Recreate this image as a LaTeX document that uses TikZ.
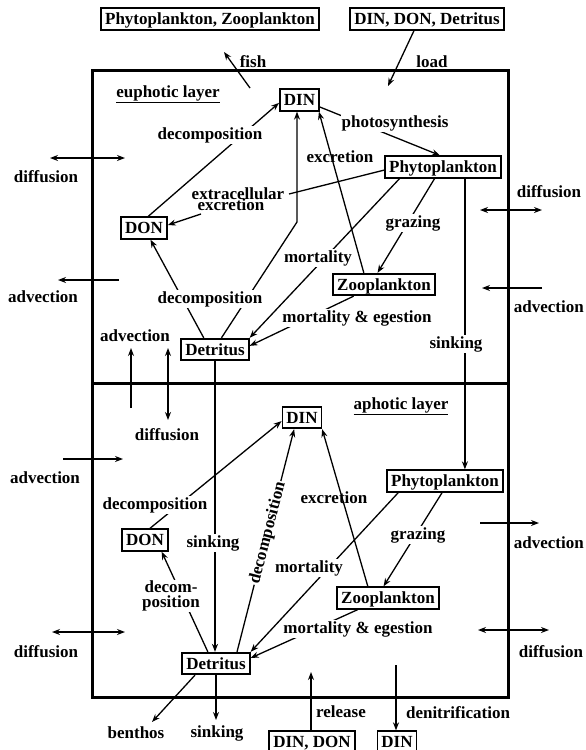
\documentclass[tikz,border=0pt]{standalone}
\usepackage{fontspec}
\setmainfont{Liberation Serif}
\usetikzlibrary{arrows.meta}
\begin{document}
\begin{tikzpicture}[x=1pt,y=-1pt,
  every node/.style={font=\fontsize{17}{15}\selectfont\bfseries},
  box/.style={draw,line width=1.8pt,inner xsep=4pt,inner ysep=5pt,text height=11.5pt,text depth=0pt,fill=white},
  lab/.style={fill=white,inner sep=1pt},
  nlab/.style={inner sep=1pt},
  ln/.style={line width=1.3pt},
  arr/.style={line width=1.3pt,-{Stealth[length=8pt,width=6pt]}},
  dbl/.style={line width=1.3pt,{Stealth[length=8pt,width=6pt]}-{Stealth[length=8pt,width=6pt]}},
  frame/.style={line width=3pt}]
\useasboundingbox (0,0) rectangle (586,750);
\clip (0,0) rectangle (586,750);
% frame
\draw[frame] (92,70) rectangle (508,697);
\draw[frame] (92,383) -- (508,383);
% nodes
\node[box] (PZ) at (210,19) {Phytoplankton, Zooplankton};
\node[box] (DDD) at (427,19) {DIN, DON, Detritus};
\node[box] (DIN1) at (299.5,100) {DIN};
\node[box] (Phy1) at (443,167) {Phytoplankton};
\node[box] (DON1) at (144,228) {DON};
\node[box] (Zoo1) at (384,284.5) {Zooplankton};
\node[box] (Det1) at (215,349.5) {Detritus};
\node[box] (DIN2) at (302,417.5) {DIN};
\node[box] (Phy2) at (445,481) {Phytoplankton};
\node[box] (DON2) at (145,540) {DON};
\node[box] (Zoo2) at (388,598) {Zooplankton};
\node[box] (Det2) at (216,663.5) {Detritus};
\node[box] (DINDON) at (312,742) {DIN, DON};
\node[box] (DINb) at (397,742) {DIN};
% coordinates
\coordinate (fishS) at (250,88);
\coordinate (fishE) at (224,52);
\coordinate (loadE) at (388,86);
\coordinate (bend1) at (297,222);
\coordinate (extraE) at (289,194);
\coordinate (extraS) at (201,214);
\coordinate (advUpS) at (131,408);
\coordinate (advUpE) at (131,348);
\coordinate (difA) at (168,348);
\coordinate (difB) at (168,420);
\coordinate (relE) at (311,672);
\coordinate (denS) at (396,665);
\coordinate (benE) at (152,722);
\coordinate (sinkE) at (216,720);
\coordinate (dL1a) at (50,158); \coordinate (dL1b) at (125,158);
\coordinate (aL1a) at (119,280); \coordinate (aL1b) at (58,280);
\coordinate (aL2a) at (63,459); \coordinate (aL2b) at (123,459);
\coordinate (dL2a) at (52,632); \coordinate (dL2b) at (125,632);
\coordinate (dR1a) at (480,210); \coordinate (dR1b) at (542,210);
\coordinate (aR1a) at (542,288); \coordinate (aR1b) at (482,288);
\coordinate (aR2a) at (480,523); \coordinate (aR2b) at (539,523);
\coordinate (dR2a) at (478,630); \coordinate (dR2b) at (549,630);
% external arrows
\draw[arr] (fishS) -- (fishE);
\draw[arr] ([xshift=-13pt]DDD.south) -- (loadE);
\draw[dbl] (dL1a) -- (dL1b);
\draw[arr] (aL1a) -- (aL1b);
\draw[arr] (aL2a) -- (aL2b);
\draw[dbl] (dL2a) -- (dL2b);
\draw[dbl] (dR1a) -- (dR1b);
\draw[arr] (aR1a) -- (aR1b);
\draw[arr] (aR2a) -- (aR2b);
\draw[dbl] (dR2a) -- (dR2b);
\draw[arr] (advUpS) -- (advUpE);
\draw[dbl] (difA) -- (difB);
% euphotic edges
\draw[arr] (DON1.70) -- (DIN1.188);
\draw[arr] (DIN1.341) -- (Phy1.105);
\draw[ln] (Phy1.183) -- (extraE);
\draw[arr] (extraS) -- (DON1.7);
\draw[arr] (Det1.61) -- (bend1) -- (bend1 |- DIN1.south);
\draw[arr] (Det1.134) -- (DON1.299);
\draw[arr] (Zoo1.150) -- (DIN1.329);
\draw[arr] (Phy1.195) -- (Det1.north east);
\draw[arr] (Phy1.234) -- (Zoo1.119);
\draw[arr] (Zoo1.201) -- (Det1.6);
\draw[arr] (Phy1.332) -- (Phy1.332 |- Phy2.north);
\draw[arr] (Det1.south) -- (Det1.south |- Det2.north);
% aphotic edges
\draw[arr] (DON2.67) -- (DIN2.190);
\draw[arr] (Det2.29) -- (DIN2.236);
\draw[arr] (Zoo2.150) -- (DIN2.330);
\draw[arr] (Phy2.194) -- (Det2.north east);
\draw[arr] (Phy2.256) -- (Zoo2.111);
\draw[arr] (Zoo2.201) -- (Det2.9);
\draw[arr] (Det2.125) -- (DON2.325);
\draw[arr] (Det2.209) -- (benE);
\draw[arr] (Det2.south) -- (sinkE);
\draw[arr] (DINDON.north -| relE) -- (relE);
\draw[arr] (denS) -- (denS |- DINb.north);
% labels
\node[nlab] (fishL) at (253,62) {fish};
\node[nlab] (loadL) at (432,62) {load};
\node[nlab] (eu) at (168,94) {\underline{euphotic layer}};
\node[lab] (dec1a) at (210,135) {decomposition};
\node[lab] (photo) at (395,123) {photosynthesis};
\node[nlab] (exc1) at (340,157) {excretion};
\node[nlab] (extra1) at (238,194) {extracellular};
\node[nlab] (extra2) at (231,205) {excretion};
\node[lab] (graz1) at (413,223) {grazing};
\node[lab] (mort1) at (318,258) {mortality};
\node[lab] (dec1b) at (210,299) {decomposition};
\node[lab] (me1) at (357,318) {mortality \& egestion};
\node[lab] (sink1) at (456,344) {sinking};
\node[nlab] (advM) at (135,336) {advection};
\node[nlab] (difM) at (167,435) {diffusion};
\node[nlab] (aph) at (401,406) {\underline{aphotic layer}};
\node[lab] (dec2a) at (155,505) {decomposition};
\node[lab,rotate=75.5] (dec2b) at (268,533) {decomposition};
\node[nlab] (exc2) at (334,498) {excretion};
\node[lab] (graz2) at (418,535) {grazing};
\node[lab] (sink2) at (213,543) {sinking};
\node[lab] (mort2) at (309,568) {mortality};
\node[lab,align=center] (decom2) at (171,596) {decom-\\position};
\node[lab] (me2) at (358,629) {mortality \& egestion};
\node[nlab] (benL) at (136,733) {benthos};
\node[nlab] (sinkL) at (217,733) {sinking};
\node[nlab] (relL) at (341,712) {release};
\node[nlab] (denL) at (458,713) {denitrification};
\node[nlab] (difL1) at (46,177) {diffusion};
\node[nlab] (advL1) at (43,297) {advection};
\node[nlab] (advL2) at (45,478) {advection};
\node[nlab] (difL2) at (46,652) {diffusion};
\node[nlab] (difR1) at (549,192) {diffusion};
\node[nlab,anchor=east] (advR1) at (585,307) {advection};
\node[nlab,anchor=east] (advR2) at (585,543) {advection};
\node[nlab] (difR2) at (551,652) {diffusion};
\end{tikzpicture}
\end{document}
